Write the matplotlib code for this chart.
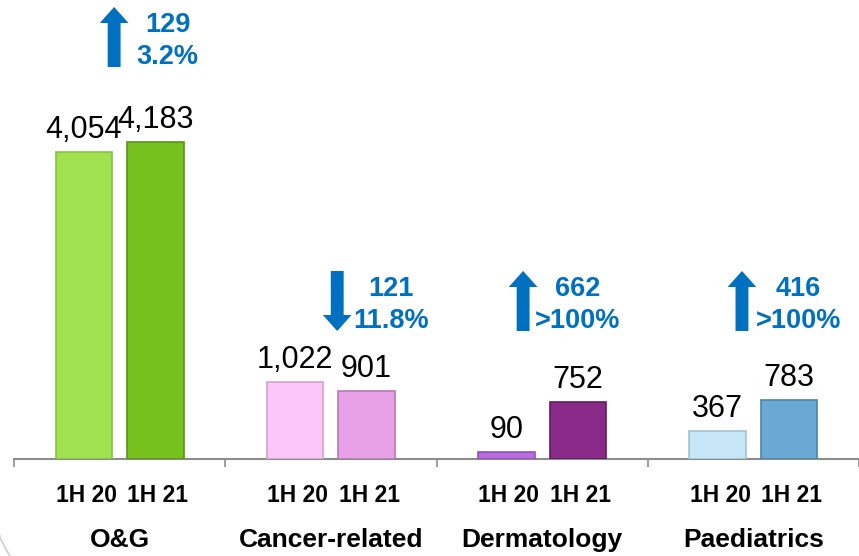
import matplotlib
matplotlib.use('Agg')
import matplotlib.pyplot as plt
from matplotlib.patches import FancyArrow, Arc
from matplotlib.transforms import IdentityTransform
import numpy as np

plt.rcParams['font.family'] = ['Liberation Sans', 'DejaVu Sans']

# data
categories = ['O&G', 'Cancer-related', 'Dermatology', 'Paediatrics']
periods = ['1H 20', '1H 21']
values_1h20 = [4054, 1022, 90, 367]
values_1h21 = [4183, 901, 752, 783]
colors_1h20 = ['#A0E14F', '#F9C6F7', '#B86BE3', '#C6E5F6']
colors_1h21 = ['#77C11F', '#E8A1E7', '#8B2B89', '#6AA9D4']
edges_1h20 = ['#86C23E', '#D3A3CF', '#9050B8', '#A3C3D4']
edges_1h21 = ['#5A9414', '#B87AB6', '#611C60', '#4A84AD']

BLUE = '#0070C0'
PX = 0.0757  # pixels per unit on the y axis

fig = plt.figure(figsize=(8.59, 5.56), dpi=100)
ax = fig.add_axes([14 / 859, 97 / 556, 845 / 859, 459 / 556])
ax.set_xlim(-0.5, -0.5 + 845 / 213)
ax.set_ylim(0, 459 / PX)

x = np.arange(len(categories))
off = 0.169
w = 0.268

ax.bar(x - off, values_1h20, width=w, color=colors_1h20, edgecolor=edges_1h20, linewidth=1.2, zorder=3)
ax.bar(x + off, values_1h21, width=w, color=colors_1h21, edgecolor=edges_1h21, linewidth=1.2, zorder=3)

# value labels
for xs, vals in ((x - off, values_1h20), (x + off, values_1h21)):
    for xi, v in zip(xs, vals):
        ax.annotate(f'{v:,}', xy=(xi, v), xytext=(0, 5), textcoords='offset points',
                    ha='center', va='bottom', fontsize=22, color='black')

# period and category labels under the axis
for i, c in enumerate(categories):
    for xi, p in ((x[i] - off, periods[0]), (x[i] + off, periods[1])):
        ax.annotate(p, xy=(xi + 0.012, 0), xytext=(0, -26), textcoords='offset points',
                    ha='center', va='center', fontsize=16.5, fontweight='bold')
    ax.annotate(c, xy=(x[i], 0), xytext=(0, -58.5), textcoords='offset points',
                ha='center', va='center', fontsize=19, fontweight='bold')

# change arrows and figures
arrow_x = [-0.026, 0.03, -0.09, -0.054]
text_x = [0.227, 0.284, 0.167, 0.213]
arrow_low = [(459 - 67) / PX, (459 - 331) / PX, (459 - 331) / PX, (459 - 331) / PX]
arrow_len = 60 / PX
for i in range(len(categories)):
    d = values_1h21[i] - values_1h20[i]
    pct = abs(d) / values_1h20[i] * 100
    pct_txt = '>100%' if pct > 100 else f'{pct:.1f}%'
    y0 = arrow_low[i]
    if d >= 0:
        arr = FancyArrow(x[i] + arrow_x[i], y0, 0, arrow_len, width=0.061, head_width=0.136,
                         head_length=16 / PX, length_includes_head=True, color=BLUE, lw=0)
    else:
        arr = FancyArrow(x[i] + arrow_x[i], y0 + arrow_len, 0, -arrow_len, width=0.061, head_width=0.136,
                         head_length=16 / PX, length_includes_head=True, color=BLUE, lw=0)
    ax.add_patch(arr)
    ax.text(x[i] + text_x[i], y0 + 42 / PX, f'{abs(d):,}', ha='center', va='center',
            fontsize=19.5, fontweight='bold', color=BLUE)
    ax.text(x[i] + text_x[i], y0 + 10 / PX, pct_txt, ha='center', va='center',
            fontsize=19.5, fontweight='bold', color=BLUE)

# axis styling
for s in ['top', 'right', 'left']:
    ax.spines[s].set_visible(False)
ax.spines['bottom'].set_color('#8C8C8C')
ax.spines['bottom'].set_linewidth(1.5)
ax.set_yticks([])
ax.set_xticks(np.arange(-0.5, len(categories), 1.0))
ax.set_xticklabels([])
ax.tick_params(axis='x', length=6, width=1.2, color='#8C8C8C', direction='out')
ax.patch.set_alpha(0)

# slide frame corner
fig.patches.append(Arc((93.5, 56), 201, 201, theta1=200, theta2=250, color='#D6D6D6',
                       lw=1.5, transform=IdentityTransform(), figure=fig))

fig.savefig('out.png', dpi=100)
